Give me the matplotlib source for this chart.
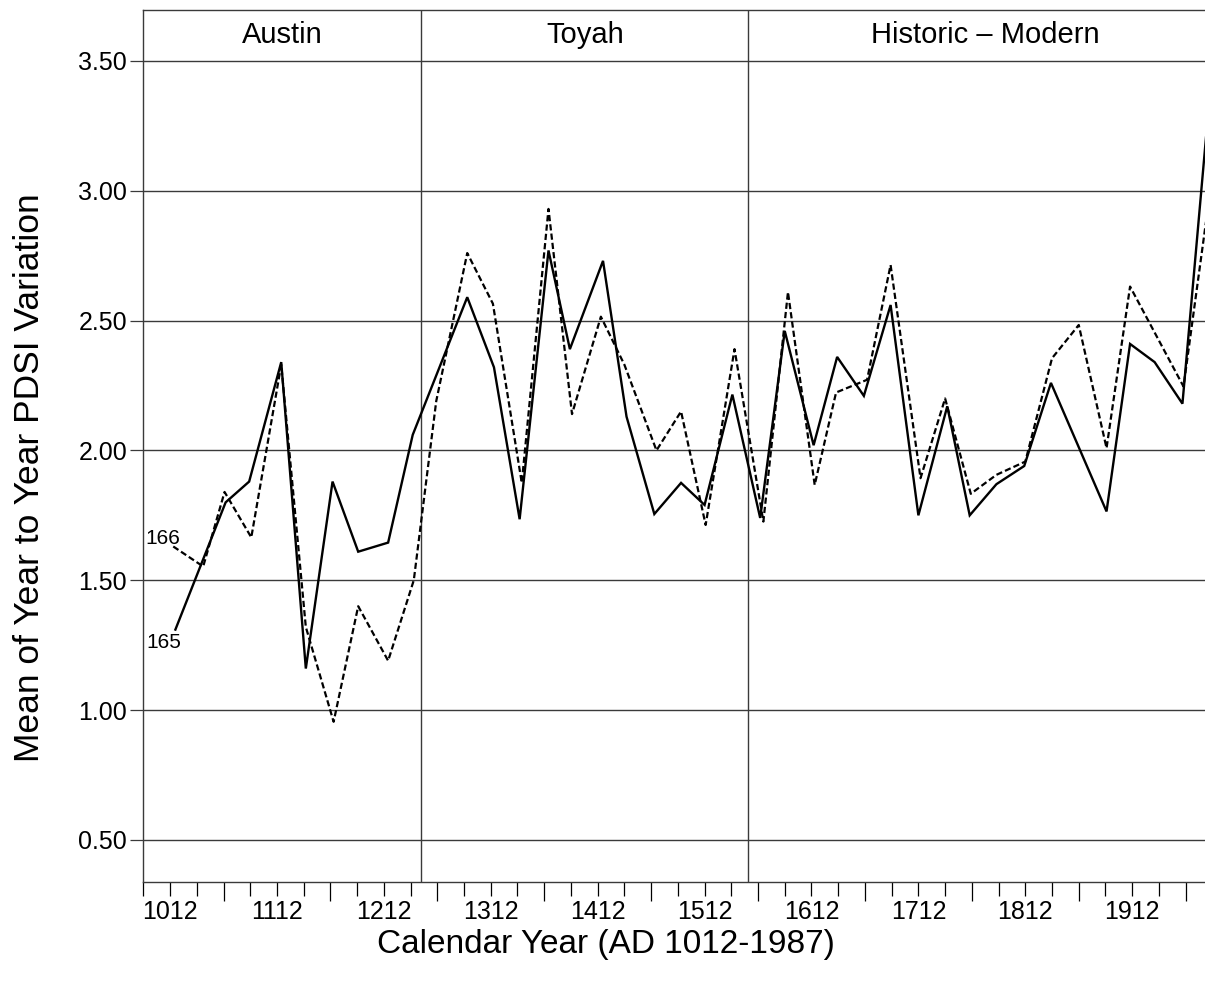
import matplotlib.pyplot as plt

plt.rcParams['font.family'] = ['Liberation Sans', 'DejaVu Sans']

# series 165 (solid) and 166 (dashed)
years_165 = [1017, 1064, 1086, 1116, 1139, 1164, 1188, 1216, 1239, 1290, 1315, 1339,
             1366, 1386, 1417, 1439, 1465, 1490, 1512, 1538, 1564, 1587, 1614, 1636,
             1661, 1686, 1712, 1739, 1760, 1785, 1811, 1836, 1888, 1910, 1933, 1959, 1985]
vals_165 = [1.31, 1.80, 1.88, 2.34, 1.16, 1.88, 1.61, 1.645, 2.06, 2.59, 2.32, 1.735,
            2.77, 2.39, 2.73, 2.13, 1.755, 1.875, 1.79, 2.215, 1.74, 2.46, 2.02, 2.36,
            2.21, 2.56, 1.75, 2.17, 1.75, 1.87, 1.94, 2.26, 1.765, 2.41, 2.34, 2.18, 3.39]

years_166 = [1015, 1043, 1063, 1088, 1116, 1139, 1165, 1188, 1216, 1240, 1261, 1290,
             1314, 1341, 1366, 1388, 1415, 1437, 1467, 1490, 1513, 1540, 1567, 1590,
             1615, 1635, 1664, 1686, 1714, 1737, 1761, 1785, 1812, 1837, 1862, 1888,
             1910, 1960, 1985]
vals_166 = [1.63, 1.553, 1.84, 1.665, 2.33, 1.32, 0.955, 1.40, 1.19, 1.50, 2.19, 2.76,
            2.565, 1.875, 2.93, 2.14, 2.515, 2.33, 2.0, 2.15, 1.713, 2.39, 1.726, 2.61,
            1.867, 2.223, 2.272, 2.714, 1.893, 2.2, 1.833, 1.906, 1.957, 2.355, 2.483, 2.009,
            2.631, 2.246, 3.0]

period_edges = [986.7, 1247, 1553, 1996]
period_names = ['Austin', 'Toyah', 'Historic \u2013 Modern']

label_years = [1012, 1112, 1212, 1312, 1412, 1512, 1612, 1712, 1812, 1912]
long_tick_years = [1062, 1162, 1262, 1362, 1462, 1562, 1662, 1762, 1862, 1962]
y_ticks = [0.5, 1.0, 1.5, 2.0, 2.5, 3.0, 3.5]

W, H = 1205, 991
fig = plt.figure(figsize=(W / 100, H / 100), dpi=100)
# axes runs a little past the right edge of the picture, like the cropped original
ax = fig.add_axes([143 / W, 1 - 882 / H, (1222 - 143) / W, (882 - 10) / H])
ax.set_xlim(period_edges[0], period_edges[-1])
ax.set_ylim(0.338, 3.696)

grid_col = '#3a3a3a'
ax.set_yticks(y_ticks)
ax.set_yticklabels(['%.2f' % v for v in y_ticks])
ax.yaxis.grid(True, color=grid_col, lw=1.0)
ax.tick_params(axis='y', direction='out', length=9.5, width=0.9, color=grid_col,
               labelsize=18, pad=2)

# x ticks: long ones at x62, short every 25 years with labels at x12
minor = [y for y in range(987, 1988, 25) if y not in long_tick_years]
ax.set_xticks(long_tick_years)
ax.set_xticklabels([''] * len(long_tick_years))
ax.set_xticks(minor, minor=True)
ax.set_xticklabels([str(y) if y in label_years else '' for y in minor], minor=True)
ax.tick_params(axis='x', which='major', direction='out', length=14, width=0.9)
ax.tick_params(axis='x', which='minor', direction='out', length=10, width=0.9,
               labelsize=18, pad=3)

for e in period_edges[1:-1]:
    ax.axvline(e, color=grid_col, lw=1.0)
for i, name in enumerate(period_names):
    ax.text((period_edges[i] + period_edges[i + 1]) / 2, (3.5 + 3.696) / 2, name,
            ha='center', va='center', fontsize=21)

ax.plot(years_165, vals_165, color='black', lw=1.7, solid_joinstyle='miter')
ax.plot(years_166, vals_166, color='black', lw=1.6, dashes=(2.8, 1.4))

ax.annotate('165', xy=(years_165[0], vals_165[0]), xytext=(-8.6, -9.6),
            textcoords='offset points', ha='center', va='center', fontsize=15)
ax.annotate('166', xy=(years_166[0], vals_166[0]), xytext=(-7.8, 5.9),
            textcoords='offset points', ha='center', va='center', fontsize=15)

for s in ax.spines.values():
    s.set_linewidth(1.0)
    s.set_color(grid_col)

fig.text(30 / W, 1 - 478 / H, 'Mean of Year to Year PDSI Variation', rotation=90,
         ha='center', va='center', fontsize=25.5)
fig.text(606 / W, 1 - 945 / H, 'Calendar Year (AD 1012-1987)', ha='center',
         va='center', fontsize=24)

fig.savefig('out.png', dpi=100)
